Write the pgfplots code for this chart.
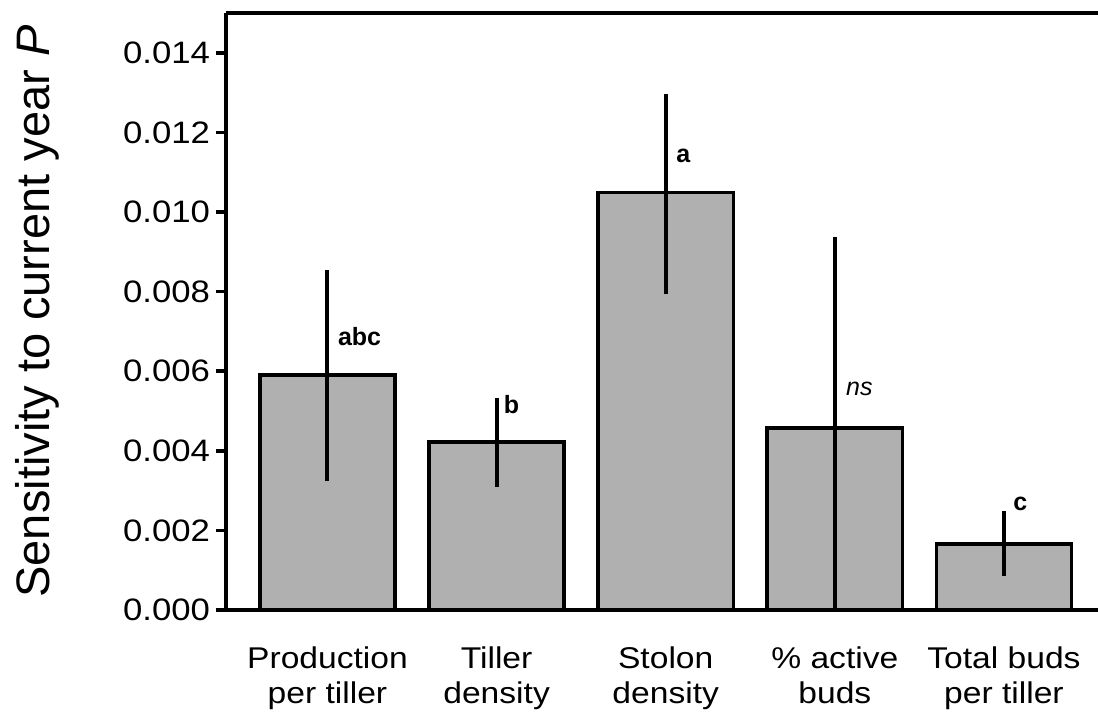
\documentclass[border=0pt]{standalone}
\usepackage{pgfplots}
\pgfplotsset{compat=1.18}
\usepackage{pgfplotstable}
\usepackage{fontspec}
\setmainfont{Liberation Sans}
\newfontfamily\widefont[FakeStretch=1.12]{Liberation Sans}
\definecolor{barfill}{RGB}{176,176,176}

\pgfplotstableread{
x y ep em
0 0.00590 0.00263 0.00266
1 0.00422 0.00110 0.00113
2 0.01049 0.00248 0.00254
3 0.00457 0.00481 0.00457
4 0.00166 0.00082 0.00081
}\datatable

\begin{document}
\begin{tikzpicture}
\useasboundingbox (-113pt,-55.5pt) rectangle (436pt,305pt);
\begin{axis}[
  at={(0,0)}, anchor=south west,
  scale only axis,
  width=436pt, height=298.5pt,
  xmin=-0.6, xmax=4.556,
  ymin=0, ymax=0.015,
  clip=false,
  axis x line=box, axis y line=left,
  axis line style={-, line width=1.8pt},
  ytick={0,0.002,0.004,0.006,0.008,0.010,0.012,0.014},
  scaled y ticks=false,
  yticklabel style={/pgf/number format/fixed, /pgf/number format/fixed zerofill, /pgf/number format/precision=3, /pgf/number format/assume math mode=true},
  yticklabel style={font=\widefont\fontsize{15.5}{18}\selectfont, xshift=0.5pt},
  ytick style={line width=1.8pt, black},
  tick align=outside,
  major tick length=5pt,
  xtick=data,
  xtick style={draw=none},
  xticklabels={{Production\\per tiller},{Tiller\\density},{Stolon\\density},{\% active\\buds},{Total buds\\per tiller}},
  xticklabel style={font=\widefont\fontsize{15}{17.5}\selectfont, align=center, yshift=-10pt},
  ylabel={Sensitivity to current year \textit{P}},
  ylabel style={font=\fontsize{23.5}{28}\selectfont, at={(axis description cs:-0.242,0.5)}, anchor=north, inner sep=0pt},
]
\addplot[ybar, bar width=0.8, fill=barfill, draw=black, line width=1.8pt,
  error bars/.cd, y dir=both, y explicit, error mark=none,
  error bar style={line width=2pt, black}]
  table[x=x, y=y, y error plus=ep, y error minus=em] {\datatable};
\node[anchor=base west, inner sep=0pt, font=\bfseries\fontsize{12.5}{15}\selectfont] at (axis cs:0.06,0.00665) {abc};
\node[anchor=base west, inner sep=0pt, font=\bfseries\fontsize{12.5}{15}\selectfont] at (axis cs:1.04,0.00494) {b};
\node[anchor=base west, inner sep=0pt, font=\bfseries\fontsize{12.5}{15}\selectfont] at (axis cs:2.06,0.01124) {a};
\node[anchor=base west, inner sep=0pt, font=\itshape\fontsize{12.5}{15}\selectfont] at (axis cs:3.065,0.00539) {ns};
\node[anchor=base west, inner sep=0pt, font=\bfseries\fontsize{12.5}{15}\selectfont] at (axis cs:4.053,0.00251) {c};
\end{axis}
\end{tikzpicture}
\end{document}
